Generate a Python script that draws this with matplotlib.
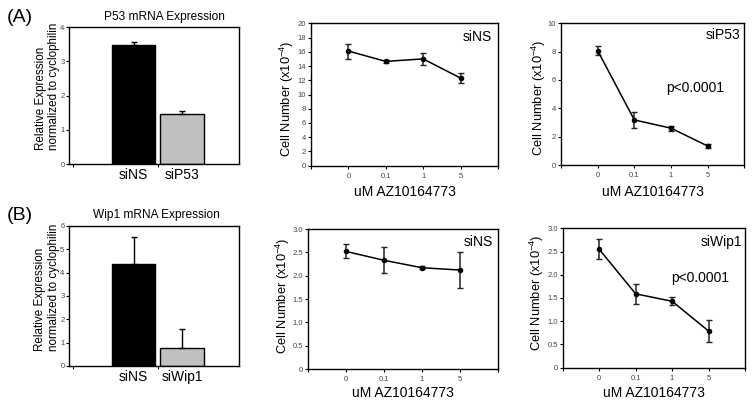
import matplotlib
matplotlib.use("Agg")
import matplotlib.pyplot as plt
import numpy as np

plt.rcParams['font.family'] = ['Liberation Sans', 'DejaVu Sans']
plt.rcParams['mathtext.default'] = 'regular'

W, H = 753, 405

# ---------------- data ----------------
a_bar_cats = ['siNS', 'siP53']
a_bar_vals = [3.47, 1.45]
a_bar_err = [0.09, 0.10]

b_bar_cats = ['siNS', 'siWip1']
b_bar_vals = [4.38, 0.77]
b_bar_err = [1.14, 0.80]

doses = ['0', '0.1', '1', '5']

a_sins_vals = [16.1, 14.65, 15.0, 12.3]
a_sins_err = [1.05, 0.2, 0.8, 0.75]

a_sip53_vals = [8.07, 3.18, 2.6, 1.34]
a_sip53_err = [0.3, 0.54, 0.18, 0.14]

b_sins_vals = [2.52, 2.33, 2.17, 2.12]
b_sins_err = [0.15, 0.28, 0.03, 0.39]

b_siwip1_vals = [2.55, 1.59, 1.43, 0.79]
b_siwip1_err = [0.21, 0.21, 0.09, 0.23]

bar_colors = ['#000000', '#c0c0c0']
ylabel_cell = 'Cell Number (x10$^{-4}$)'
xlabel_dose = 'uM AZ10164773'
ylabel_expr = 'Relative Expression\nnormalized to cyclophilin'

fig = plt.figure(figsize=(W / 100, H / 100), dpi=100)


def add_ax(l, t, r, b):
    return fig.add_axes([l / W, 1 - b / H, (r - l) / W, (b - t) / H])


def ftext(x, y, s, **kw):
    fig.text(x / W, 1 - y / H, s, **kw)


def style(ax, pad=1.5):
    for sp in ax.spines.values():
        sp.set_linewidth(1.0)
        sp.set_color('black')
    ax.tick_params(axis='y', direction='out', length=2.5, width=0.8,
                   labelsize=5.5, labelcolor='#444444', pad=pad)


def bar_panel(box, cats, vals, errs, ymax, title, title_xy, lab_xy):
    ax = add_ax(*box)
    x = np.arange(len(cats))
    ax.bar(x, vals, width=0.887, color=bar_colors, edgecolor='black',
           linewidth=1.0, zorder=2)
    ax.errorbar(x, vals, yerr=[np.zeros(len(errs)), errs], fmt='none',
                ecolor='black', elinewidth=1.0, capsize=2.5, capthick=1.0,
                zorder=3)
    ax.set_xlim(-1.33, 2.175)
    ax.set_ylim(0, ymax)
    ax.set_yticks(np.arange(0, ymax + 1, 1))
    ax.set_yticklabels([str(v) for v in range(0, ymax + 1)])
    ax.set_xticks(x)
    ax.set_xticklabels(cats, fontsize=10)
    ax.tick_params(axis='x', length=0, pad=3)
    ax.set_xticks([-1.25, 0.5], minor=True)
    ax.tick_params(axis='x', which='minor', direction='out', length=2.5, width=0.8)
    style(ax, pad=0.8)
    ftext(title_xy[0], title_xy[1], title, fontsize=8.6, ha='center', va='center')
    ftext(lab_xy[0], lab_xy[1], ylabel_expr, fontsize=8.4, rotation=90,
          ha='center', va='center', multialignment='left', linespacing=1.15)
    return ax


def line_panel(box, vals, errs, ymax, ystep, yfmt, ylab_xy, xlab_y):
    ax = add_ax(*box)
    x = np.arange(len(doses))
    ax.errorbar(x, vals, yerr=errs, fmt='-o', color='black', markersize=3,
                linewidth=1.1, elinewidth=1.1, ecolor='#222222', capsize=2.2,
                capthick=1.0, zorder=3)
    ax.set_xlim(-1, 4)
    ax.set_ylim(0, ymax)
    ticks = np.arange(0, ymax + ystep / 2, ystep)
    ax.set_yticks(ticks)
    ax.set_yticklabels([yfmt(t) for t in ticks])
    ax.set_xticks(x)
    ax.set_xticklabels(doses)
    ax.set_xticks([-1, 4], minor=True)
    ax.tick_params(axis='x', which='both', direction='out', length=2.5, width=0.8,
                   labelsize=5.5, labelcolor='#444444', pad=2.5)
    style(ax, pad=1.0)
    ftext(ylab_xy[0], ylab_xy[1], ylabel_cell, fontsize=9.3, rotation=90,
          ha='center', va='center')
    l, t, r, b = box
    ftext((l + r) / 2, xlab_y, xlabel_dose, fontsize=10, ha='center', va='center')
    return ax


def fmt_int(v):
    return '%d' % round(v)


def fmt_half(v):
    return '0' if v == 0 else '%.1f' % v


# Panel A
ftext(7, 17, '(A)', fontsize=14, ha='left', va='center')
bar_panel((69, 27, 239, 164), a_bar_cats, a_bar_vals, a_bar_err, 4,
          'P53 mRNA Expression', (164, 17), (47.5, 86.5))
line_panel((311, 23.3, 498, 165.7), a_sins_vals, a_sins_err, 20, 2, fmt_int,
           (287, 98.5), 192)
ftext(492, 37, 'siNS', fontsize=10, ha='right', va='center')
line_panel((561, 23.3, 744.3, 165), a_sip53_vals, a_sip53_err, 10, 2, fmt_int,
           (539, 98), 192)
ftext(740, 35, 'siP53', fontsize=10, ha='right', va='center')
ftext(695, 88, 'p<0.0001', fontsize=10, ha='center', va='center')

# Panel B
ftext(7, 215, '(B)', fontsize=14, ha='left', va='center')
bar_panel((69, 226, 239, 366), b_bar_cats, b_bar_vals, b_bar_err, 6,
          'Wip1 mRNA Expression', (156.5, 215), (47, 287.5))
line_panel((307.7, 229, 498.3, 369), b_sins_vals, b_sins_err, 3.0, 0.5, fmt_half,
           (283, 296), 392.7)
ftext(492.7, 241.7, 'siNS', fontsize=10, ha='right', va='center')
line_panel((562.7, 228.3, 745, 367.7), b_siwip1_vals, b_siwip1_err, 3.0, 0.5, fmt_half,
           (537, 293), 392.7)
ftext(741.7, 241.7, 'siWip1', fontsize=10, ha='right', va='center')
ftext(700.5, 277.7, 'p<0.0001', fontsize=10, ha='center', va='center')

fig.savefig('out.png', dpi=100)
